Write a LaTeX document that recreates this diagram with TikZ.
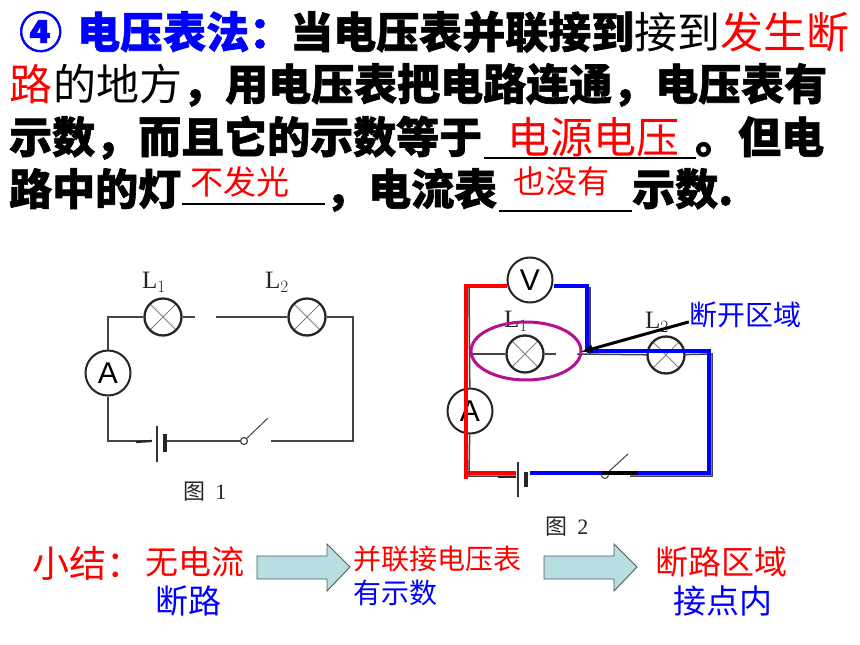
\documentclass[tikz,border=0pt]{standalone}
\usepackage{fontspec}
\setmainfont{Liberation Serif}
\setsansfont{Liberation Sans}
\newfontfamily\cjk[BoldFeatures={FakeBold=1.4}]{Noto Sans CJK SC}
\usepackage{xcolor}
\usepackage{tikz}
\usetikzlibrary{calc,shapes.geometric}

\definecolor{wiregray}{HTML}{444444}
\definecolor{linkpurple}{HTML}{B5108F}
\definecolor{arrowteal}{HTML}{B7DEE0}

\tikzset{
    heading/.style={anchor=base west, inner sep=0pt, font=\cjk\bfseries\fontsize{43}{43}\selectfont},
    thintext/.style={anchor=base west, inner sep=0pt, font=\cjk\fontsize{#1}{#1}\selectfont},
    wire/.style={wiregray, line width=1.5pt},
    lamp/.style={circle, draw=black!85, line width=2.3pt, fill=white, minimum size=37pt, inner sep=0pt,
        path picture={
            \draw[gray, line width=0.9pt] (path picture bounding box.north west) -- (path picture bounding box.south east);
            \draw[gray, line width=0.9pt] (path picture bounding box.south west) -- (path picture bounding box.north east);
        }},
    meter/.style={circle, draw=black!85, line width=2pt, fill=white, minimum size=45pt, inner sep=0pt,
        font=\sffamily\fontsize{30}{30}\selectfont},
    lamplabel/.style={inner sep=0pt, text=black!85, font=\fontsize{25}{25}\selectfont},
    caption/.style={inner sep=0pt, text=black!85, font=\fontsize{22}{22}\selectfont},
    bigarrow/.style={draw=black!65, line width=0.9pt, fill=arrowteal},
    redwire/.style={red, line width=3.6pt},
    bluewire/.style={blue, line width=4pt},
}

\begin{document}
\begin{tikzpicture}[x=1pt, y=-1pt]
    \useasboundingbox[fill=white] (0,0) rectangle (860,645);

    % Text lines on top
    \node[heading, blue] (num) at (19,48) {④};
    \node[heading, blue] (title) at (77,48) {电压表法：};
    \node[heading] (lineonea) at (290,48) {当电压表并联接到};
    \node[thintext=43] (lineoneb) at (634,48) {接到};
    \node[thintext=43, red] (lineonec) at (720,48) {发生断};

    \node[thintext=43, red] (linetwoa) at (9,100) {路};
    \node[thintext=43] (linetwob) at (53,100) {的地方};
    \node[heading] (linetwoc) at (182,100) {，用电压表把电路连通，电压表有};

    \node[heading] (linethreea) at (9,153) {示数，而且它的示数等于};
    \node[thintext=43, red] (source) at (507,153) {电源电压};
    \node[heading] (linethreeb) at (695,153) {。但电};
    \draw[black, line width=1.4pt] (484,158) -- (696,158);

    \node[heading] (linefoura) at (9,205) {路中的灯};
    \node[thintext=33, red] (nolight) at (190,194) {不发光};
    \draw[black, line width=1.4pt] (182,204) -- (325,204);
    \node[heading] (linefourb) at (325,205) {，电流表};
    \node[thintext=32, red] (nocurrent) at (513,193) {也没有};
    \draw[black, line width=1.4pt] (499,211) -- (632,211);
    \node[heading] (linefourc) at (632,205) {示数.};

    % Circuit of figure 1
    \coordinate (atl) at (108,317);
    \coordinate (atr) at (353,317);
    \coordinate (abr) at (353,441);
    \coordinate (abl) at (108,441);
    \coordinate (aminus) at (152,441);
    \coordinate (aplus) at (165,441);
    \coordinate (aopen) at (216,317);
    \coordinate (agap) at (195,317);
    \coordinate (afree) at (271,441);
    \coordinate (atip) at (268,418);
    \node[lamp] (lampa) at (163,317) {};
    \node[lamp] (lampb) at (307,317) {};
    \node[meter] (ammeter) at (108,373) {A};
    \node[circle, draw=wiregray, line width=1.2pt, fill=white, minimum size=7pt, inner sep=0pt] (pivot) at (244,441) {};
    \draw[wire] (ammeter) -- (atl) -- (lampa);
    \draw[wire] (lampa) -- (agap);
    \draw[wire] (aopen) -- (lampb);
    \draw[wire] (lampb) -- (atr) -- (abr) -- (afree);
    \draw[wire] (ammeter) -- (abl) -- (aminus);
    \draw[black!85, line width=2.2pt] (136,442) -- (aminus);
    \draw[wire] (aplus) -- (pivot);
    \draw[wire, line width=1pt] (pivot) -- (atip);
    \draw[black!80, line width=1.2pt] (157,426) -- (157,462);
    \draw[black!85, line width=4.5pt] (165,434) -- (165,452);
    \node[lamplabel] (labela) at (154,282) {L$_1$};
    \node[lamplabel] (labelb) at (277,282) {L$_2$};
    \node[caption] (figa) at (205,492) {\cjk 图\ \ \rmfamily 1};

    % Circuit of figure 2
    \coordinate (btl) at (469,287);
    \coordinate (btr) at (590,287);
    \coordinate (bmid) at (590,354);
    \coordinate (bleft) at (469,354);
    \coordinate (bright) at (712,354);
    \coordinate (bbr) at (712,476);
    \coordinate (bbl) at (469,476);
    \coordinate (bgapl) at (556,354);
    \coordinate (bgapr) at (577,354);
    \coordinate (bminus) at (516,476);
    \coordinate (bfree) at (630,476);
    \coordinate (btip) at (628,454);
    \coordinate (bredtop) at (466,286);
    \coordinate (bredlow) at (466,479);
    \coordinate (bredend) at (516,473);
    \coordinate (bredcorner) at (466,473);
    \coordinate (bblueup) at (587,286);
    \coordinate (bbluemid) at (587,351);
    \coordinate (bblueleft) at (530,473);
    \coordinate (bblueright) at (709,351);
    \coordinate (bbluelow) at (709,473);
    \node[lamp] (lampc) at (525,354) {};
    \node[lamp] (lampd) at (666,355) {};
    \node[meter] (ammeterb) at (470,411) {A};
    \node[meter] (voltmeter) at (530,280) {V};
    \node[circle, draw=wiregray, line width=1pt, fill=white, minimum size=7pt, inner sep=0pt] (pivotb) at (605,475) {};
    \node[lamplabel] (labelc) at (516,321) {L$_1$};
    \node[lamplabel] (labeld) at (657,322) {L$_2$};
    \draw[wire] (btl) -- (ammeterb);
    \draw[wire] (ammeterb) -- (bbl) -- (bminus);
    \draw[wire] (bleft) -- (lampc);
    \draw[wire] (lampc) -- (bgapl);
    \draw[wire] (bgapr) -- (lampd);
    \draw[wire] (lampd) -- (bright) -- (bbr) -- (bfree);
    \draw[wire] (btr) -- (bmid);
    \draw[wire, line width=1pt] (pivotb) -- (btip);
    \draw[black!85, line width=2.2pt] (498,477) -- (bminus |- 0,477);
    \draw[black!80, line width=1.2pt] (518,462) -- (518,497);
    \draw[black!85, line width=4.5pt] (526,472) -- (526,487);

    % Coloured current paths
    \draw[redwire] (voltmeter.west |- bredtop) -- (bredtop) -- (bredlow);
    \draw[redwire] (bredcorner) -- (bredend);
    \draw[bluewire] (voltmeter.east |- bredtop) -- (bblueup) -- (bbluemid);
    \draw[bluewire] (bbluemid) -- (bblueright) -- (bbluelow) -- (bblueleft);
    \draw[black, line width=3.5pt] (602,473) -- (638,473);

    % Marked region
    \node[ellipse, draw=linkpurple, line width=3pt, minimum width=110pt, minimum height=58pt, inner sep=0pt] (region) at (526,351) {};
    \node[inner sep=0pt, text=blue, font=\cjk\fontsize{28}{28}\selectfont] (broken) at (745,315) {断开区域};
    \coordinate (breakpt) at (581,352);
    \draw[->, >=latex, black, line width=3pt] (broken.187) -- (breakpt);
    \node[caption] (figb) at (567,527) {\cjk 图\ \ \rmfamily 2};

    % Summary row
    \node[thintext=37, red] (summary) at (32,577) {小结：};
    \node[thintext=33, red] (nocur) at (145,574) {无电流};
    \node[thintext=33, blue] (openc) at (155,613) {断路};
    \draw[bigarrow] (257,556) -- (327,556) -- (327,544) -- (350,567) -- (327,591) -- (327,579) -- (257,579) -- cycle;
    \node[thintext=28, red] (parallel) at (353,569) {并联接电压表};
    \node[thintext=28, blue] (reading) at (353,603) {有示数};
    \draw[bigarrow] (544,556) -- (614,556) -- (614,544) -- (637,567) -- (614,591) -- (614,579) -- (544,579) -- cycle;
    \node[thintext=33, red] (area) at (655,574) {断路区域};
    \node[thintext=33, blue] (inside) at (673,613) {接点内};
\end{tikzpicture}
\end{document}
